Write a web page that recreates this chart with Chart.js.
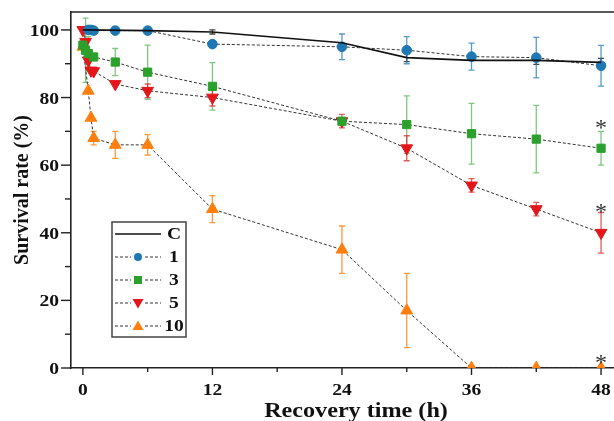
<!DOCTYPE html>
<html>
<head>
<meta charset="utf-8">
<script src="https://cdn.jsdelivr.net/npm/chart.js@4.4.1/dist/chart.umd.min.js"></script>
<style>
  html, body { margin: 0; padding: 0; background: #fff; }
  #wrap { width: 614px; height: 421px; }
</style>
</head>
<body>
<div id="wrap"><canvas id="chart" width="614" height="421"></canvas></div>
<script>
// ---- data ----
var timesC = [0, 6, 12, 24, 30, 36, 42, 48];
var valuesC = [100, 99.8, 99.4, 96.2, 91.8, 91.0, 91.0, 90.4];
var errC = [0, 0, 0.6, 0, 1.2, 0, 1.2, 1.2];

var times1 = [0.5, 0.75, 1, 3, 6, 12, 24, 30, 36, 42, 48];
var values1 = [100, 100, 99.8, 99.8, 99.8, 95.8, 95.0, 94.0, 92.1, 91.8, 89.4];
var err1 = [0, 0, 0, 0, 0.4, 0.5, 3.8, 4.0, 4.0, 6.0, 6.0];

var times3 = [0, 0.25, 0.5, 1, 3, 6, 12, 24, 30, 36, 42, 48];
var values3 = [95.5, 94.0, 93.0, 92.0, 90.5, 87.5, 83.3, 73.0, 72.0, 69.3, 67.7, 65.0];
var err3 = [0, 9.5, 5, 0, 4.0, 8.0, 7.0, 1.0, 8.5, 9.0, 10.0, 5.0];

var times5 = [0, 0.25, 0.5, 0.75, 1, 3, 6, 12, 24, 30, 36, 42, 48];
var values5 = [100, 96.5, 91.0, 88.0, 87.8, 84.0, 82.0, 80.0, 73.0, 65.0, 54.0, 47.0, 40.0];
var err5 = [0, 0, 0, 0, 0, 0, 2.0, 2.5, 2.0, 3.7, 2.0, 2.0, 6.0];

var times10 = [0, 0.5, 0.75, 1, 3, 6, 12, 24, 30, 36, 42, 48];
var values10 = [95.0, 82.0, 74.0, 68.0, 66.0, 66.0, 47.0, 35.0, 17.0, 0, 0, 0];
var err10 = [0, 0, 0, 2.0, 4.0, 3.0, 4.0, 7.0, 11.0, 0, 0, 0];

var seriesNames = ['C', '1', '3', '5', '10'];
var xTickLabels = ['0', '12', '24', '36', '48'];
var yTickLabels = ['0', '20', '40', '60', '80', '100'];
// significance marks at 48 h (value where the star sits)
var starTimes = [48, 48, 48];
var starValues = [72.5, 47.8, 3.0];

var FONT = '"Liberation Serif", "Times New Roman", serif';
var dashColor = '#333';

function pts(ts, vs) {
  return ts.map(function (t, i) { return { x: t, y: vs[i] }; });
}

var errors = [errC, err1, err3, err5, err10];

var datasets = [
  { label: seriesNames[0], data: pts(timesC, valuesC), borderColor: '#111', borderWidth: 1.6,
    pointRadius: 0, mark: 'none', markColor: '#111', errColor: 'rgba(20,20,20,0.8)' },
  { label: seriesNames[1], data: pts(times1, values1), borderColor: dashColor, borderWidth: 1, borderDash: [3, 2],
    pointStyle: 'circle', pointRadius: 4.8, backgroundColor: '#1f77b4', pointBorderColor: '#1f77b4',
    mark: 'circle', markColor: '#1f77b4', errColor: 'rgba(31,119,180,0.75)' },
  { label: seriesNames[2], data: pts(times3, values3), borderColor: dashColor, borderWidth: 1, borderDash: [3, 2],
    pointStyle: 'rect', pointRadius: 5.8, backgroundColor: '#2ca02c', pointBorderColor: '#2ca02c',
    mark: 'rect', markColor: '#2ca02c', errColor: 'rgba(44,160,44,0.6)' },
  { label: seriesNames[3], data: pts(times5, values5), borderColor: dashColor, borderWidth: 1, borderDash: [3, 2],
    pointStyle: 'triangle', pointRotation: 180, pointRadius: 6.8, backgroundColor: '#e3171b', pointBorderColor: '#e3171b',
    mark: 'down', markColor: '#e3171b', errColor: 'rgba(214,39,40,0.75)' },
  { label: seriesNames[4], data: pts(times10, values10), borderColor: dashColor, borderWidth: 1, borderDash: [3, 2],
    pointStyle: 'triangle', pointRadius: 6.8, backgroundColor: '#ff7f0e', pointBorderColor: '#ff7f0e',
    mark: 'up', markColor: '#ff7f0e', errColor: 'rgba(255,127,14,0.8)' }
];
datasets.forEach(function (d) { d.tension = 0; d.fill = false; d.pointBorderWidth = 1; d.pointHoverRadius = d.pointRadius; });

function stretchText(ctx, txt, x, y, align, sx) {
  ctx.save();
  ctx.translate(x, y);
  ctx.scale(sx, 1);
  ctx.textAlign = align;
  ctx.fillText(txt, 0, 0);
  ctx.restore();
}

function drawMark(ctx, kind, x, y, r, color) {
  ctx.save();
  ctx.fillStyle = color;
  ctx.beginPath();
  if (kind == 'circle') {
    ctx.arc(x, y, r, 0, Math.PI * 2);
  } else if (kind == 'rect') {
    ctx.rect(x - r, y - r, 2 * r, 2 * r);
  } else if (kind == 'up') {
    ctx.moveTo(x, y - r * 1.1); ctx.lineTo(x + r * 1.1, y + r * 0.8); ctx.lineTo(x - r * 1.1, y + r * 0.8);
  } else if (kind == 'down') {
    ctx.moveTo(x, y + r * 1.1); ctx.lineTo(x + r * 1.1, y - r * 0.8); ctx.lineTo(x - r * 1.1, y - r * 0.8);
  }
  ctx.closePath();
  ctx.fill();
  ctx.restore();
}

// error bars under the markers
var errorBars = {
  id: 'errorBars',
  beforeDatasetsDraw: function (chart) {
    var ctx = chart.ctx, ys = chart.scales.y, xs = chart.scales.x;
    chart.data.datasets.forEach(function (ds, di) {
      var e = errors[di];
      ctx.save();
      ctx.strokeStyle = ds.errColor;
      ctx.lineWidth = 1.3;
      ds.data.forEach(function (p, i) {
        if (!e[i]) return;
        var px = xs.getPixelForValue(p.x);
        var top = ys.getPixelForValue(p.y + e[i]);
        var bot = ys.getPixelForValue(p.y - e[i]);
        ctx.beginPath();
        ctx.moveTo(px, top); ctx.lineTo(px, bot);
        ctx.moveTo(px - 3, top); ctx.lineTo(px + 3, top);
        ctx.moveTo(px - 3, bot); ctx.lineTo(px + 3, bot);
        ctx.stroke();
      });
      ctx.restore();
    });
  }
};

// axes ticks, labels, frame, legend, stars
var decorations = {
  id: 'decorations',
  afterDraw: function (chart) {
    var ctx = chart.ctx, ys = chart.scales.y, xs = chart.scales.x, a = chart.chartArea;
    ctx.save();
    ctx.strokeStyle = '#222';
    ctx.fillStyle = '#111';
    ctx.lineWidth = 1.4;

    // top frame
    ctx.beginPath();
    ctx.moveTo(a.left, a.top); ctx.lineTo(a.right, a.top);
    ctx.stroke();

    // y ticks
    for (var v = 0; v <= 100; v += 10) {
      var py = ys.getPixelForValue(v);
      var major = v % 20 == 0;
      ctx.beginPath();
      ctx.moveTo(a.left, py); ctx.lineTo(a.left - (major ? 10 : 6), py);
      ctx.stroke();
    }
    // x ticks
    for (var t = 0; t <= 48; t += 6) {
      var px = xs.getPixelForValue(t);
      var maj = t % 12 == 0;
      ctx.beginPath();
      ctx.moveTo(px, a.bottom); ctx.lineTo(px, a.bottom + (maj ? 7 : 4));
      ctx.stroke();
    }

    ctx.font = 'bold 17px ' + FONT;
    ctx.textBaseline = 'alphabetic';
    yTickLabels.forEach(function (lab) {
      stretchText(ctx, lab, a.left - 12, ys.getPixelForValue(+lab) + 6, 'right', 1.15);
    });
    xTickLabels.forEach(function (lab) {
      stretchText(ctx, lab, xs.getPixelForValue(+lab), 395, 'center', 1.15);
    });

    // axis titles
    ctx.font = 'bold 21px ' + FONT;
    stretchText(ctx, 'Recovery time (h)', 356, 417, 'center', 1.15);
    ctx.save();
    ctx.translate(28, (a.top + a.bottom) / 2);
    ctx.rotate(-Math.PI / 2);
    ctx.font = 'bold 20px ' + FONT;
    ctx.textAlign = 'center';
    ctx.fillText('Survival rate (%)', 0, 0);
    ctx.restore();

    // stars
    ctx.font = '24px ' + FONT;
    ctx.fillStyle = '#333';
    ctx.textBaseline = 'middle';
    starTimes.forEach(function (t, i) {
      stretchText(ctx, '*', xs.getPixelForValue(t), ys.getPixelForValue(starValues[i]) + 6, 'center', 1);
    });

    // legend
    var lx = 112, ly = 222, lw = 74, lh = 115;
    ctx.fillStyle = '#fff';
    ctx.fillRect(lx, ly, lw, lh);
    ctx.strokeStyle = '#444';
    ctx.lineWidth = 1.5;
    ctx.strokeRect(lx, ly, lw, lh);
    ctx.font = 'bold 17px ' + FONT;
    ctx.textBaseline = 'middle';
    chart.data.datasets.forEach(function (ds, i) {
      var ry = ly + 12 + i * 23;
      ctx.save();
      ctx.strokeStyle = ds.borderColor;
      ctx.lineWidth = ds.borderWidth;
      ctx.setLineDash(ds.borderDash || []);
      ctx.beginPath();
      ctx.moveTo(lx + 3, ry); ctx.lineTo(lx + 49, ry);
      ctx.stroke();
      ctx.restore();
      if (ds.mark != 'none') {
        ctx.fillStyle = '#fff';
        ctx.fillRect(lx + 19, ry - 6, 14, 12);
        drawMark(ctx, ds.mark, lx + 26, ry, ds.mark == 'circle' ? 4 : (ds.mark == 'rect' ? 4 : 5), ds.markColor);
      }
      ctx.fillStyle = '#111';
      stretchText(ctx, ds.label, lx + 62, ry + 1, 'center', 1.15);
    });
    ctx.restore();
  }
};

new Chart(document.getElementById('chart'), {
  type: 'line',
  data: { datasets: datasets },
  options: {
    responsive: false,
    animation: false,
    layout: { autoPadding: false, padding: { top: 12, right: 0, left: 0, bottom: 0 } },
    plugins: { legend: { display: false }, tooltip: { enabled: false } },
    scales: {
      x: {
        type: 'linear', min: -1.1, max: 49.2,
        grid: { display: false },
        border: { display: true, color: '#222', width: 1.6 },
        ticks: { display: false, stepSize: 6, includeBounds: false },
        afterFit: function (s) { s.height = 53; }
      },
      y: {
        type: 'linear', min: 0, max: 105.3,
        grid: { display: false },
        border: { display: true, color: '#222', width: 1.6 },
        ticks: { display: false, stepSize: 10, includeBounds: false },
        afterFit: function (s) { s.width = 71; }
      }
    }
  },
  plugins: [errorBars, decorations]
});
</script>
</body>
</html>
